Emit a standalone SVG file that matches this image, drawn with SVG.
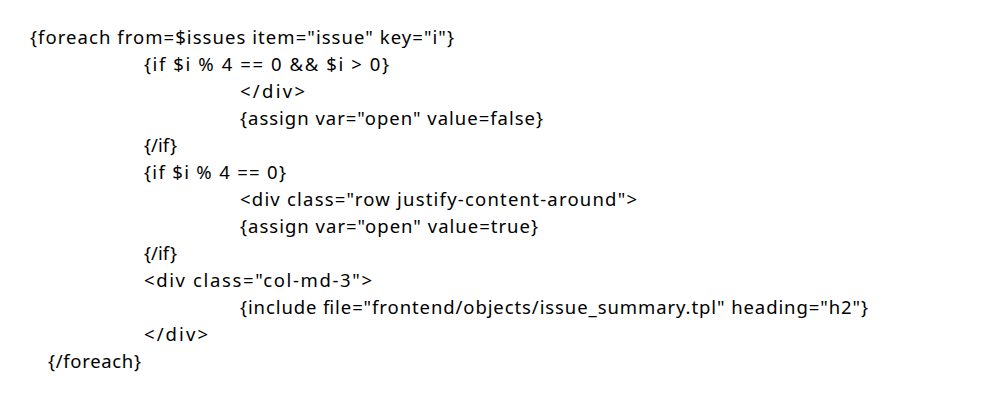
<svg xmlns="http://www.w3.org/2000/svg" width="998" height="404" viewBox="0 0 998 404">
<style>
text{font-family:"Noto Sans","Open Sans","DejaVu Sans",sans-serif;font-size:18.5px;fill:#000;white-space:pre}
</style>
<rect x="0" y="0" width="998" height="404" fill="#fff"/>
<g id="code">
<text x="30" y="44" textLength="424" lengthAdjust="spacing">{foreach from=$issues item="issue" key="i"}</text>
<text x="144" y="71" textLength="245" lengthAdjust="spacing">{if $i % 4 == 0 &amp;&amp; $i &gt; 0}</text>
<text x="240" y="98" textLength="65" lengthAdjust="spacing">&lt;/div&gt;</text>
<text x="240" y="125" textLength="303" lengthAdjust="spacing">{assign var="open" value=false}</text>
<text x="144" y="152" textLength="33" lengthAdjust="spacing">{/if}</text>
<text x="144" y="179" textLength="142" lengthAdjust="spacing">{if $i % 4 == 0}</text>
<text x="240" y="206" textLength="397" lengthAdjust="spacing">&lt;div class="row justify-content-around"&gt;</text>
<text x="240" y="233" textLength="298" lengthAdjust="spacing">{assign var="open" value=true}</text>
<text x="144" y="260" textLength="33" lengthAdjust="spacing">{/if}</text>
<text x="144" y="287" textLength="228" lengthAdjust="spacing">&lt;div class="col-md-3"&gt;</text>
<text x="240" y="314" textLength="628" lengthAdjust="spacing">{include file="frontend/objects/issue_summary.tpl" heading="h2"}</text>
<text x="144" y="341" textLength="64" lengthAdjust="spacing">&lt;/div&gt;</text>
<text x="48" y="368" textLength="93" lengthAdjust="spacing">{/foreach}</text>
</g>
</svg>
